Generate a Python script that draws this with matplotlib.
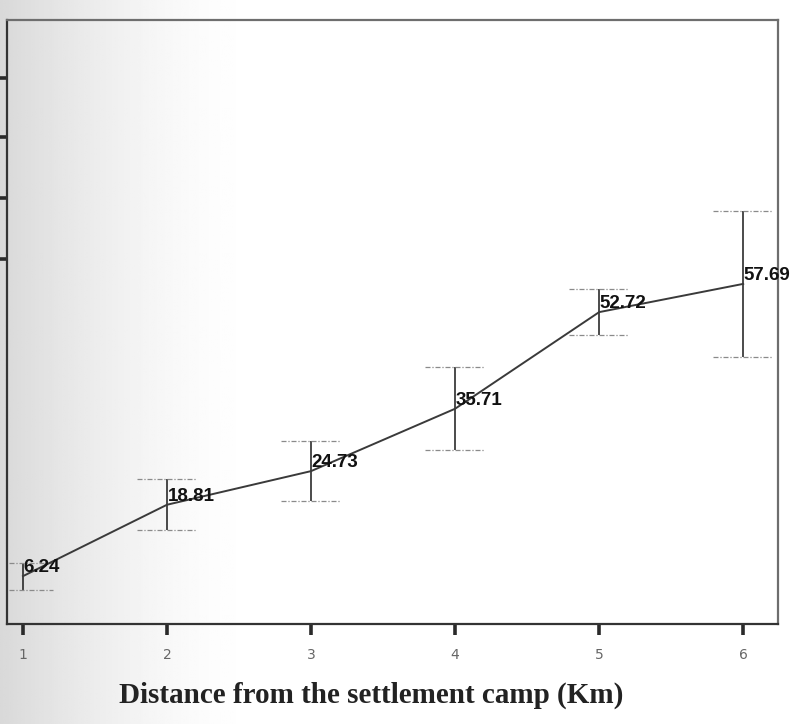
import numpy as np
import matplotlib.pyplot as plt

# distance from camp (km) and mean values with their error bar half-widths
distance = [1, 2, 3, 4, 5, 6]
means = [6.24, 18.81, 24.73, 35.71, 52.72, 57.69]
errors = [2.4, 4.5, 5.3, 7.3, 4.1, 12.9]
ytick_vals = [62.1, 72.8, 83.5, 94.0]

fig = plt.figure(figsize=(7.91, 7.24), dpi=100)
fig.patch.set_facecolor('white')

# faint grey shading along the left edge of the page
bg = fig.add_axes([0, 0, 1, 1], zorder=-1)
xx = np.linspace(0, 1, 400)
shade = np.clip(1 - xx / 0.33, 0, 1) ** 1.6
img = 1 - 0.15 * shade
bg.imshow(np.tile(img, (10, 1)), cmap='gray', vmin=0, vmax=1,
          aspect='auto', extent=[0, 1, 0, 1])
bg.axis('off')

ax = fig.add_axes([0.0088, 0.138, 0.975, 0.834])
ax.set_facecolor('none')

x = np.array(distance)
y = np.array(means)
err = np.array(errors)

ax.plot(x, y, color='#3a3a3a', lw=1.4, zorder=3)
ax.vlines(x, y - err, y + err, colors='#1a1a1a', lw=1.1, zorder=2)
ax.hlines(np.concatenate([y - err, y + err]),
          np.concatenate([x, x]) - 0.21, np.concatenate([x, x]) + 0.21,
          colors='#8a8a8a', lw=0.9, linestyles=(0, (4, 1.5, 1, 1.5)), zorder=2)

for xi, yi in zip(x, y):
    ax.annotate(f'{yi:.2f}', (xi, yi), xytext=(0.5, 6), textcoords='offset points',
                ha='left', va='center', fontsize=13.5, fontweight='bold',
                family='Liberation Sans', color='#111111', zorder=4)

ax.set_xlim(0.889, 6.243)
ax.set_ylim(-2.2, 104.1)
ax.set_xticks(distance)
ax.set_xticklabels([str(d) for d in distance])
ax.set_yticks(ytick_vals)
ax.set_yticklabels([])

ax.tick_params(axis='x', direction='out', length=8, width=2.6, color='#2a2a2a',
               labelsize=10, labelcolor='#666666', pad=9)
ax.tick_params(axis='y', direction='out', length=8, width=2.6, color='#2a2a2a')

for side in ['left', 'bottom']:
    ax.spines[side].set_color('#333333')
    ax.spines[side].set_linewidth(1.6)
for side in ['top', 'right']:
    ax.spines[side].set_color('#6e6e6e')
    ax.spines[side].set_linewidth(1.6)

fig.text(0.469, 1 - 695 / 724, 'Distance from the settlement camp (Km)',
         ha='center', va='center', fontsize=21, fontweight='bold',
         family='Liberation Serif', color='#222222')

fig.savefig('out.png', dpi=100)
